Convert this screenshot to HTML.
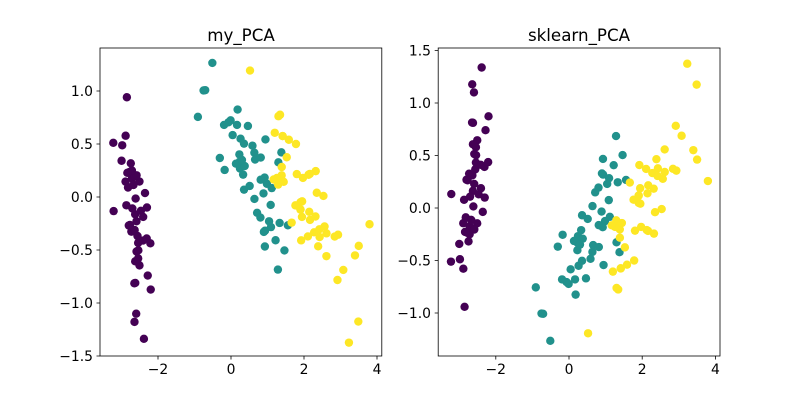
<!DOCTYPE html>
<html><head><meta charset="utf-8"><style>
body{margin:0;background:#fff;width:800px;height:400px;overflow:hidden}
svg{font-family:"DejaVu Sans","Liberation Sans",sans-serif}
</style></head><body>
<svg id="s" width="800" height="400" xmlns="http://www.w3.org/2000/svg">
<rect width="800" height="400" fill="#fff"/>
<g id="p1"></g><g id="p2"></g>
<g stroke="#000" stroke-width="0.8" fill="none">
<rect x="100" y="48" width="281.8" height="308"/>
<rect x="438.2" y="48" width="281.8" height="308"/>
<path d="M158,356v3.5M231,356v3.5M304,356v3.5M377,356v3.5
M100,91h-3.5M100,144h-3.5M100,197h-3.5M100,250h-3.5M100,303h-3.5M100,356h-3.5
M495.8,356v3.5M569,356v3.5M642.2,356v3.5M715.4,356v3.5
M438.2,50.5h-3.5M438.2,103h-3.5M438.2,155.5h-3.5M438.2,208h-3.5M438.2,260.5h-3.5M438.2,313h-3.5"/>
</g>
<g font-size="13.9" fill="#000" text-anchor="middle">
<text x="158" y="374">−2</text><text x="231" y="374">0</text><text x="304" y="374">2</text><text x="377" y="374">4</text>
<text x="495.8" y="374">−2</text><text x="569" y="374">0</text><text x="642.2" y="374">2</text><text x="715.4" y="374">4</text>
</g>
<g font-size="13.9" fill="#000" text-anchor="end">
<text x="93" y="96">1.0</text><text x="93" y="149">0.5</text><text x="93" y="202">0.0</text><text x="93" y="255">−0.5</text><text x="93" y="308">−1.0</text><text x="93" y="361">−1.5</text>
<text x="431" y="55.5">1.5</text><text x="431" y="108">1.0</text><text x="431" y="160.5">0.5</text><text x="431" y="213">0.0</text><text x="431" y="265.5">−0.5</text><text x="431" y="318">−1.0</text>
</g>
<g font-size="16.7" fill="#000" text-anchor="middle">
<text x="241" y="41">my_PCA</text><text x="579" y="41">sklearn_PCA</text>
</g>
</svg>
<script>
var d=[[-2.684,0.319],[-2.714,-0.177],[-2.889,-0.145],[-2.745,-0.318],[-2.729,0.327],[-2.281,0.741],[-2.821,-0.089],[-2.626,0.163],[-2.887,-0.578],[-2.674,-0.114],[-2.507,0.645],[-2.613,0.015],[-2.787,-0.235],[-3.225,-0.511],[-2.644,1.178],[-2.386,1.338],[-2.623,0.811],[-2.648,0.312],[-2.199,0.873],[-2.588,0.514],[-2.310,0.391],[-2.544,0.433],[-3.216,0.133],[-2.303,0.099],[-2.356,-0.037],[-2.508,-0.146],[-2.469,0.131],[-2.562,0.368],[-2.640,0.312],[-2.633,-0.196],[-2.587,-0.205],[-2.410,0.411],[-2.648,0.814],[-2.597,1.101],[-2.673,-0.114],[-2.867,0.078],[-2.625,0.607],[-2.800,0.269],[-2.980,-0.488],[-2.590,0.229],[-2.770,0.264],[-2.853,-0.941],[-2.998,-0.342],[-2.406,0.188],[-2.209,0.437],[-2.715,-0.250],[-2.538,0.503],[-2.840,-0.228],[-2.543,0.579],[-2.703,0.108],
[1.285,0.685],[0.932,0.318],[1.464,0.504],[0.181,-0.825],[1.087,0.075],[0.640,-0.418],[1.095,0.284],[-0.751,-1.005],[1.043,0.229],[-0.010,-0.723],[-0.511,-1.265],[0.511,-0.104],[0.262,-0.550],[0.984,-0.125],[-0.174,-0.255],[0.928,0.467],[0.660,-0.353],[0.236,-0.333],[0.944,-0.543],[0.045,-0.584],[1.116,-0.084],[0.357,-0.069],[1.298,-0.327],[0.921,-0.183],[0.715,0.149],[0.900,0.329],[1.332,0.245],[1.558,0.267],[0.813,-0.163],[-0.306,-0.368],[-0.068,-0.705],[-0.190,-0.680],[0.136,-0.314],[1.380,-0.421],[0.588,-0.484],[0.806,0.194],[1.221,0.408],[0.815,-0.372],[0.246,-0.268],[0.165,-0.680],[0.463,-0.670],[0.890,-0.034],[0.229,-0.402],[-0.707,-1.008],[0.356,-0.503],[0.332,-0.211],[0.376,-0.292],[0.642,0.018],[-0.907,-0.756],[0.300,-0.349],
[2.532,-0.010],[1.414,-0.575],[2.616,0.343],[1.971,-0.180],[2.350,-0.040],[3.397,0.551],[0.521,-1.193],[2.933,0.356],[2.321,-0.244],[2.917,0.783],[1.662,0.242],[1.803,-0.216],[2.165,0.216],[1.344,-0.776],[1.585,-0.540],[1.905,0.119],[1.949,0.041],[3.488,1.175],[3.795,0.257],[1.300,-0.762],[2.428,0.378],[1.199,-0.606],[3.500,0.461],[1.388,-0.204],[2.276,0.333],[2.614,0.558],[1.258,-0.180],[1.291,-0.117],[2.124,-0.210],[2.388,0.465],[2.841,0.373],[3.231,1.374],[2.159,-0.218],[1.444,-0.143],[1.780,-0.500],[3.077,0.688],[2.144,0.140],[1.905,0.049],[1.169,-0.165],[2.107,0.372],[2.314,0.184],[1.922,0.409],[1.414,-0.575],[2.563,0.278],[2.419,0.305],[1.944,0.188],[1.527,-0.375],[1.764,0.079],[1.901,0.117],[1.390,-0.283]];
var cols=["#440154","#21918c","#fde725"],ns="http://www.w3.org/2000/svg";
var p1=document.getElementById("p1"),p2=document.getElementById("p2");
d.forEach(function(p,i){var c=cols[Math.floor(i/50)];
var a=document.createElementNS(ns,"circle");a.setAttribute("cx",231+p[0]*36.5);a.setAttribute("cy",197+p[1]*106);a.setAttribute("r",4.2);a.setAttribute("fill",c);p1.appendChild(a);
var b=document.createElementNS(ns,"circle");b.setAttribute("cx",569+p[0]*36.6);b.setAttribute("cy",208-p[1]*105);b.setAttribute("r",4.2);b.setAttribute("fill",c);p2.appendChild(b);});
</script>
</body></html>
